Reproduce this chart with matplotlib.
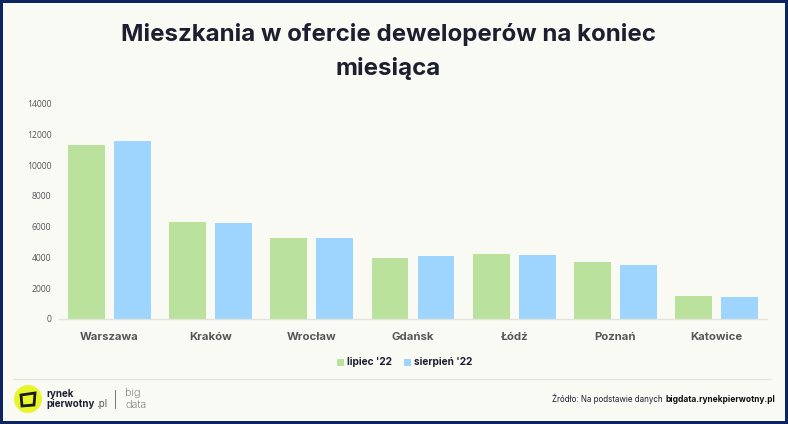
import matplotlib
matplotlib.use("Agg")
import matplotlib.pyplot as plt
import numpy as np
from matplotlib.patches import Circle, Polygon, Rectangle
from matplotlib.lines import Line2D

W, H = 788, 424

cities = ["Warszawa", "Kraków", "Wrocław", "Gdańsk", "Łódź", "Poznań", "Katowice"]
lipiec = [11300, 6320, 5280, 3950, 4250, 3720, 1500]
sierpien = [11550, 6250, 5230, 4080, 4150, 3480, 1400]
yticks = [0, 2000, 4000, 6000, 8000, 10000, 12000, 14000]

BG = "#fafaf5"
GREEN = "#bae29c"
BLUE = "#9dd5fe"
NAVY = "#0c2461"
DARK = "#1d1f2e"
GREY = "#565656"

plt.rcParams["font.family"] = ["Inter", "DejaVu Sans"]


def fx(px):
    return px / W


def fy(px):
    return 1 - px / H


fig = plt.figure(figsize=(W / 100, H / 100), dpi=100, facecolor=BG)

# frame of the graphic
fig.add_artist(Rectangle((0, 0), 3 / W, 1, transform=fig.transFigure, color=NAVY, lw=0))
fig.add_artist(Rectangle((1 - 3 / W, 0), 3 / W, 1, transform=fig.transFigure, color=NAVY, lw=0))
fig.add_artist(Rectangle((0, 0), 1, 3 / H, transform=fig.transFigure, color=NAVY, lw=0))
fig.add_artist(Rectangle((0, 1 - 3 / H), 1, 3 / H, transform=fig.transFigure, color=NAVY, lw=0))

ax = fig.add_axes([fx(59), fy(319), fx(708), fy(103.5) - fy(319)], facecolor=BG)
x = np.arange(len(cities))
ax.bar(x - 0.2273, lipiec, 0.365, color=GREEN)
ax.bar(x + 0.2273, sierpien, 0.365, color=BLUE)
ax.set_xlim(-0.5, 6.5)
ax.set_ylim(0, 14000)
ax.set_yticks(yticks)
ax.set_xticks(x, cities)
ax.tick_params(axis="y", length=0, pad=5.5, labelsize=6.2, labelcolor=GREY)
ax.tick_params(axis="x", length=0, pad=9, labelsize=8.2, labelcolor=GREY)
for lab in ax.get_yticklabels():
    lab.set_family(["Open Sans", "DejaVu Sans"])
for lab in ax.get_xticklabels():
    lab.set_fontweight("bold")
for side in ["top", "left", "right"]:
    ax.spines[side].set_visible(False)
ax.spines["bottom"].set_color("#e3e3de")
ax.spines["bottom"].set_linewidth(1)

# title
fig.text(fx(388), fy(34), "Mieszkania w ofercie deweloperów na koniec", ha="center", va="center",
         fontsize=17.3, fontweight="bold", color=DARK)
fig.text(fx(388), fy(69), "miesiąca", ha="center", va="center",
         fontsize=17.3, fontweight="bold", color=DARK)

# legend
fig.add_artist(Rectangle((fx(337), fy(366)), 7 / W, 7 / H, transform=fig.transFigure, color=GREEN, lw=0))
fig.add_artist(Rectangle((fx(404), fy(366)), 7 / W, 7 / H, transform=fig.transFigure, color=BLUE, lw=0))
fig.text(fx(347), fy(362), "lipiec '22", ha="left", va="center", fontsize=7.3, fontweight="bold", color=DARK)
fig.text(fx(414), fy(362), "sierpień '22", ha="left", va="center", fontsize=7.3, fontweight="bold", color=DARK)

# footer
fig.add_artist(Line2D([fx(14), fx(770)], [fy(379), fy(379)], color="#e3e3de", lw=1))
fig.text(fx(665), fy(399), "Źródło: Na podstawie danych ", ha="right", va="center", fontsize=5.75, color=DARK)
fig.text(fx(665), fy(399), "bigdata.rynekpierwotny.pl", ha="left", va="center", fontsize=6.05,
         fontweight="bold", color="#111111")

# logo
lay = fig.add_axes([0, 0, 1, 1], facecolor="none")
lay.set_xlim(0, W)
lay.set_ylim(H, 0)
lay.axis("off")
lay.add_patch(Circle((28, 399), 14, color="#e6f52c", lw=0))
lay.add_patch(Polygon([(21, 395), (35, 393), (34, 405), (22, 406)], closed=True, fill=False, ec="#1a1a1a", lw=2))
lay.text(46, 394, "rynek", ha="left", va="center", fontsize=7, fontweight="bold", color=DARK)
lay.text(46, 404, "pierwotny", ha="left", va="center", fontsize=7, fontweight="bold", color=DARK)
lay.text(96, 404, ".pl", ha="left", va="center", fontsize=7, color="#555555")
lay.plot([115.5, 115.5], [390, 408], color="#777777", lw=0.7)
lay.text(125, 393, "big", ha="left", va="center", fontsize=8, color="#555555", fontweight="light")
lay.text(125, 405, "data", ha="left", va="center", fontsize=8, color="#555555", fontweight="light")

fig.savefig("out.png", dpi=100, facecolor=BG)
